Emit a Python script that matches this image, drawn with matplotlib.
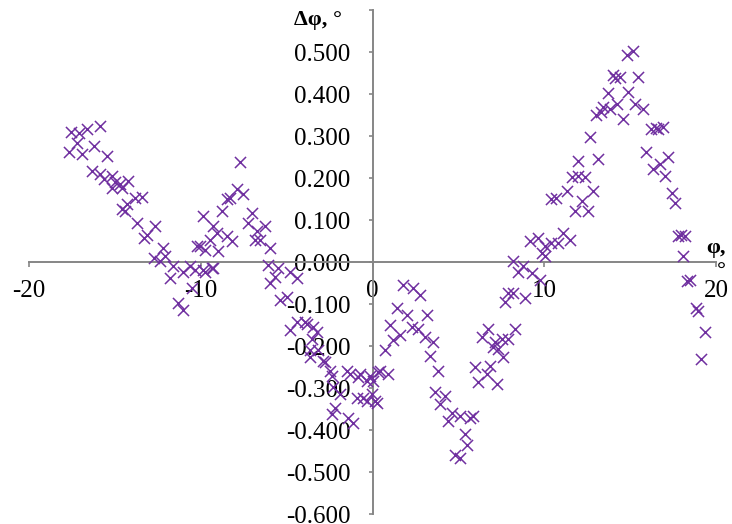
import numpy as np
import matplotlib
matplotlib.use('Agg')
import matplotlib.pyplot as plt


# ----------------------------------------------------------------
# Data (phi in degrees, delta phi in degrees)
# ----------------------------------------------------------------
phi_left = [-17.56, -17.11, -16.63, -15.85, -17.70, -16.92, -16.24, -15.46, -17.20,
            -16.34, -15.85, -15.17, -14.69, -14.21, -15.17, -14.59, -15.66, -14.98,
            -13.43, -13.82, -14.30, -14.59, -14.40, -13.72, -12.65, -13.14, -13.33,
            -12.17, -12.75, -12.36, -12.07, -11.59, -11.78, -11.01, -10.62, -11.30,
            -11.01, -10.50, -9.84, -10.03, -9.84, -9.36]
dphi_left = [0.311, 0.308, 0.318, 0.324, 0.263, 0.258, 0.276, 0.252, 0.285,
             0.218, 0.210, 0.206, 0.186, 0.194, 0.178, 0.178, 0.198, 0.190,
             0.156, 0.154, 0.138, 0.126, 0.122, 0.094, 0.086, 0.066, 0.058,
             0.034, 0.010, 0.002, 0.014, -0.010, -0.038, -0.022, -0.010, -0.098,
             -0.114, -0.062, 0.110, 0.038, -0.018, -0.014]

phi_hump = [-7.71, -7.90, -7.52, -8.29, -8.48, -8.77, -7.03, -7.22, -6.25, -6.74,
            -9.06, -8.48, -8.19, -9.45, -10.23, -9.74, -8.97, -6.84, -6.54, -5.96,
            -6.06, -5.48, -10.33, -9.74, -9.26, -5.67, -4.80, -5.96, -4.41, -5.38,
            -4.99, -9.26]
dphi_hump = [0.238, 0.174, 0.162, 0.154, 0.150, 0.122, 0.118, 0.094, 0.086, 0.074,
             0.070, 0.062, 0.050, 0.054, 0.038, 0.030, 0.026, 0.054, 0.054, 0.034,
             -0.006, -0.014, -0.018, -0.022, -0.014, -0.034, -0.022, -0.050, -0.038, -0.090,
             -0.082, 0.086]

phi_valley = [-4.41, -3.83, -4.80, -3.25, -3.54, -3.64, -3.15, -3.64, -2.86, -2.76,
              -2.47, -2.37, -2.28, -1.50, -1.31, -0.83, -0.73, -0.15, 0.44, 0.92,
              -0.34, -0.05, -0.54, 0.24, -1.89, -0.92, -0.34, -2.18, -2.37, -1.41,
              -1.12, -3.93, -3.44]
dphi_valley = [-0.142, -0.146, -0.162, -0.166, -0.182, -0.210, -0.210, -0.226, -0.234, -0.238,
               -0.258, -0.270, -0.298, -0.258, -0.266, -0.274, -0.266, -0.270, -0.258, -0.266,
               -0.282, -0.314, -0.322, -0.334, -0.314, -0.322, -0.330, -0.346, -0.362, -0.370,
               -0.382, -0.142, -0.154]

phi_dip = [1.79, 2.37, 2.76, 1.41, 1.99, 3.15, 1.02, 2.28, 2.67, 1.60,
           3.05, 3.54, 1.21, 0.73, 3.34, 3.83, 0.34, 0.05, 0.15, 3.64,
           4.22, 3.93, 4.61, 4.41, 5.09, 5.67, 5.86, 5.38, 5.48, 4.80,
           5.09, 5.96, 6.15, 6.64, 6.35, 6.74, 7.13, 6.84, 7.22, 7.32,
           7.61, 7.52, 7.90, 8.29, 7.71, 8.19, 8.48, 8.87, 7.03]
dphi_dip = [-0.054, -0.062, -0.078, -0.110, -0.126, -0.126, -0.150, -0.154, -0.158, -0.174,
            -0.178, -0.190, -0.186, -0.210, -0.222, -0.258, -0.262, -0.282, -0.330, -0.310,
            -0.318, -0.338, -0.358, -0.378, -0.366, -0.370, -0.366, -0.410, -0.434, -0.458,
            -0.466, -0.250, -0.286, -0.266, -0.178, -0.158, -0.190, -0.246, -0.290, -0.206,
            -0.226, -0.182, -0.182, -0.158, -0.094, -0.074, -0.022, -0.086, -0.202]

phi_peak = [8.19, 8.77, 9.26, 9.74, 7.90, 9.16, 9.65, 10.03, 10.42, 10.81,
            11.10, 11.49, 10.03, 9.84, 10.71, 10.42, 11.30, 12.17, 11.78, 12.55,
            11.59, 11.97, 12.36, 12.84, 11.97, 13.14, 12.65, 13.04, 13.43, 13.82,
            13.72, 14.21, 14.11, 14.40, 14.88, 14.59, 14.79, 15.17, 15.46, 15.27,
            15.75, 13.30, 14.00]
dphi_peak = [0.002, -0.010, -0.026, -0.042, -0.074, 0.050, 0.058, 0.038, 0.046, 0.046,
             0.070, 0.054, 0.014, 0.022, 0.154, 0.150, 0.170, 0.146, 0.122, 0.122,
             0.202, 0.206, 0.202, 0.170, 0.242, 0.246, 0.298, 0.350, 0.370, 0.366,
             0.402, 0.378, 0.438, 0.442, 0.406, 0.342, 0.494, 0.502, 0.442, 0.378,
             0.366, 0.358, 0.445]

phi_tail = [16.24, 16.63, 16.92, 16.50, 15.95, 16.33, 16.73, 17.21, 17.02, 17.41,
            17.60, 17.79, 18.18, 17.99, 18.08, 18.47, 18.30, 18.86, 18.95, 19.34,
            19.15]
dphi_tail = [0.318, 0.318, 0.322, 0.320, 0.262, 0.222, 0.234, 0.250, 0.206, 0.166,
             0.142, 0.062, 0.062, 0.065, 0.014, -0.042, -0.045, -0.110, -0.115, -0.166,
             -0.230]

phi = phi_left + phi_hump + phi_valley + phi_dip + phi_peak + phi_tail
dphi = dphi_left + dphi_hump + dphi_valley + dphi_dip + dphi_peak + dphi_tail

x_ticks = [-20, -10, 0, 10, 20]
y_ticks = [-0.6, -0.5, -0.4, -0.3, -0.2, -0.1, 0.0, 0.1, 0.2, 0.3, 0.4, 0.5, 0.6]


# ----------------------------------------------------------------
# Figure
# ----------------------------------------------------------------
plt.rcParams['font.family'] = ['Liberation Serif', 'DejaVu Serif']

marker_color = '#7030A0'
axis_color = '#868686'

fig = plt.figure(figsize=(7.32, 5.24), dpi=100)
ax = fig.add_axes([29 / 732, 1 - 514.3 / 524, 687 / 732, 504 / 524])

ax.scatter(phi, dphi, marker='x', s=8.0 ** 2, linewidths=1.1, color=marker_color, zorder=3)

ax.set_xlim(-20, 20)
ax.set_ylim(-0.6, 0.6)

# Axes crossing at the origin, Excel style
for side in ['top', 'right']:
  ax.spines[side].set_visible(False)
ax.spines['left'].set_position(('data', 0))
ax.spines['bottom'].set_position(('data', 0))
for side in ['left', 'bottom']:
  ax.spines[side].set_color(axis_color)
  ax.spines[side].set_linewidth(1.4)

ax.set_xticks(x_ticks)
ax.set_xticklabels([str(v) for v in x_ticks])
ax.set_yticks(y_ticks)
ylabels = ['{:.3f}'.format(v) for v in y_ticks]
ylabels[-1] = ''  # top label is hidden under the axis title
ax.set_yticklabels(ylabels)

ax.tick_params(axis='x', direction='out', length=3.6, width=1.2, color=axis_color,
               pad=9, labelsize=18)
ax.tick_params(axis='y', direction='out', length=3, width=1.2, color=axis_color,
               pad=13, labelsize=18)

# Axis titles
ax.text(-1.77, 0.577, 'Δφ, °', ha='right', va='center', fontsize=16, fontweight='bold')
ax.text(20.0, 0.005, 'φ,\n°', ha='center', va='center', fontsize=16, fontweight='bold',
        multialignment='right', linespacing=1.25)

fig.savefig('out.png', dpi=100)
